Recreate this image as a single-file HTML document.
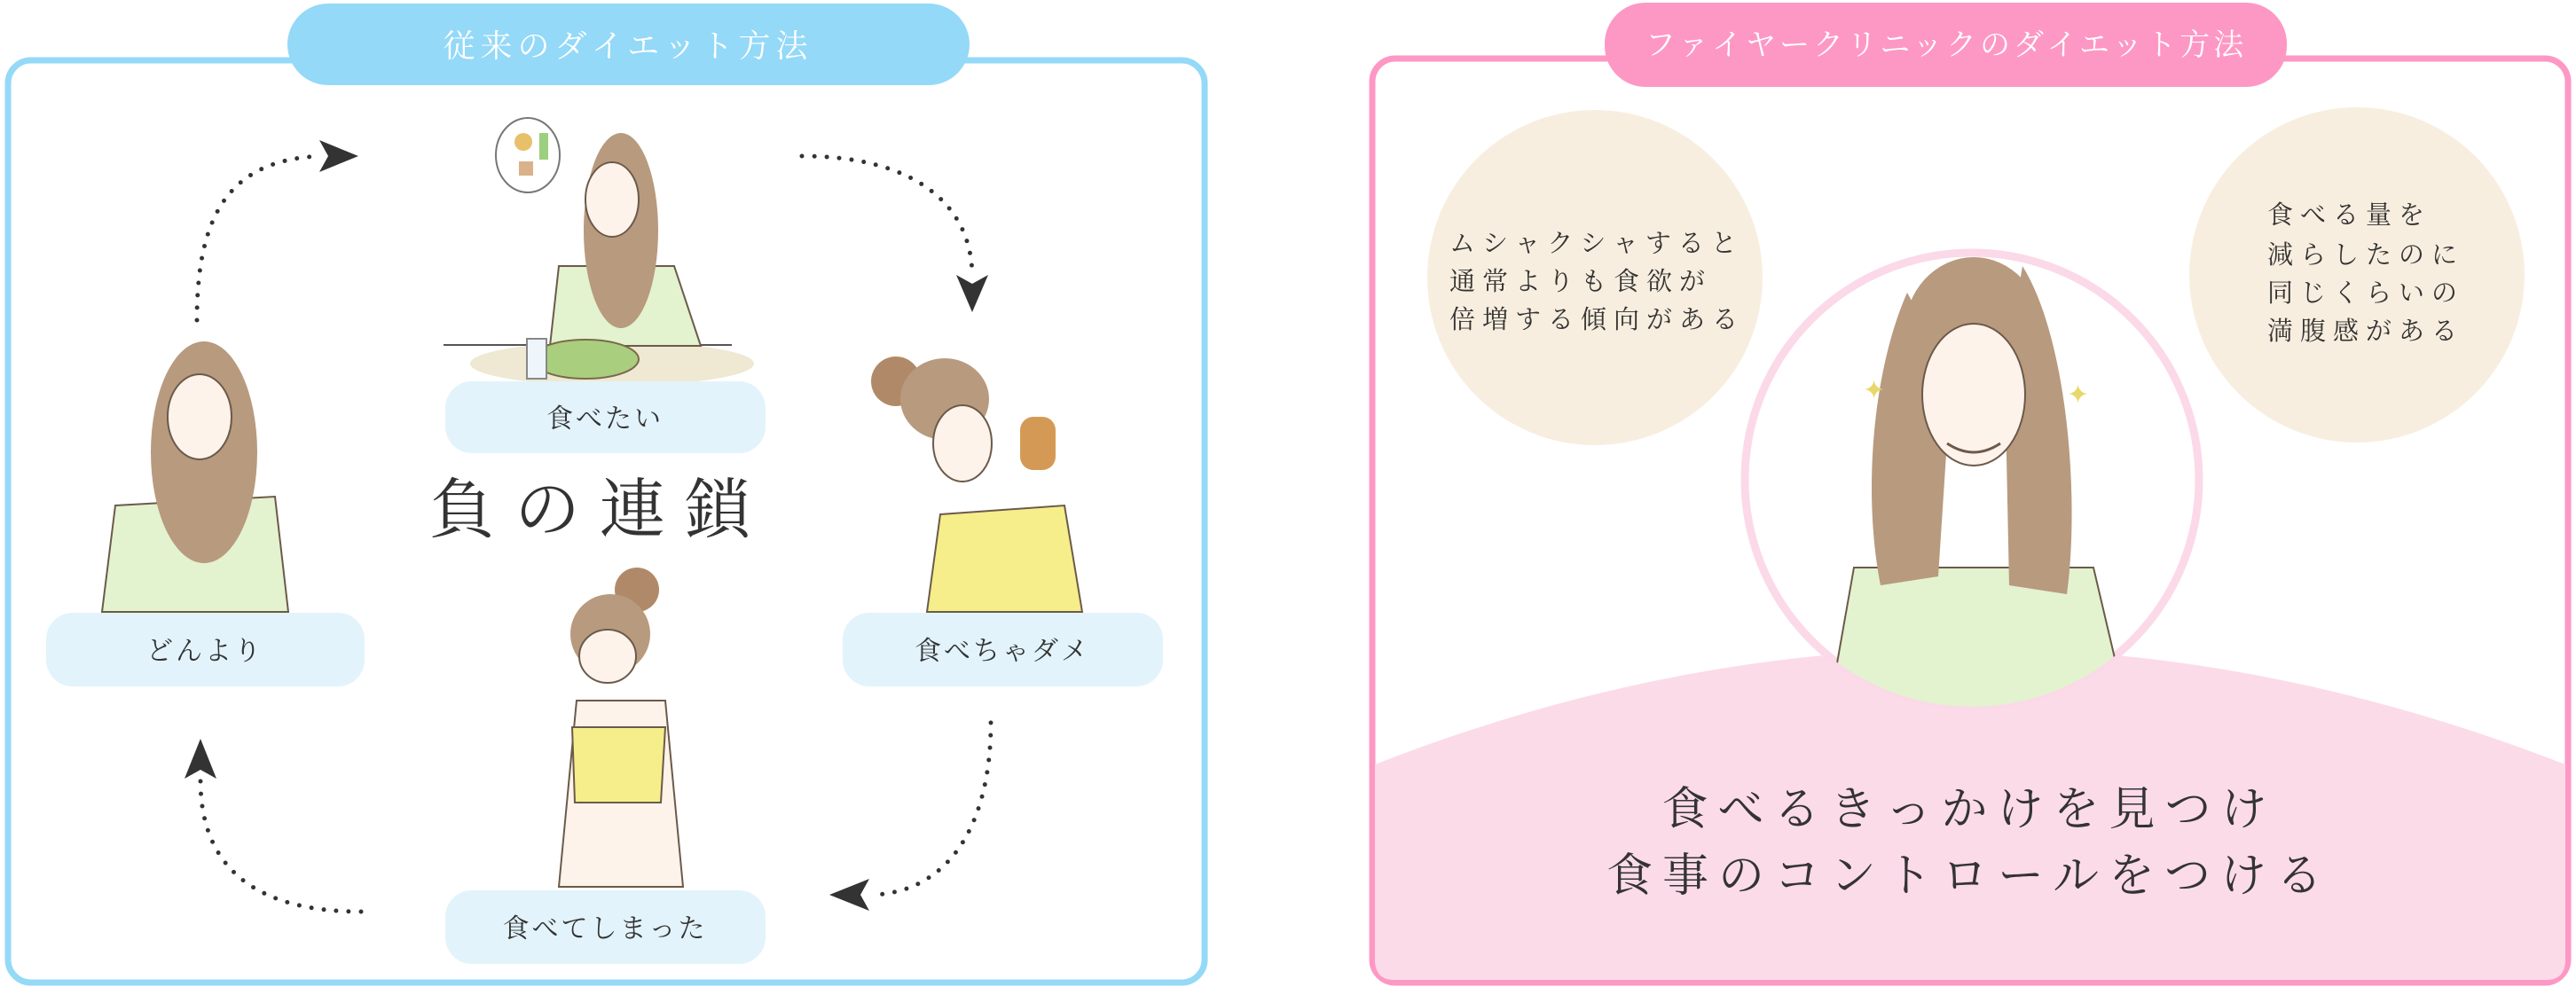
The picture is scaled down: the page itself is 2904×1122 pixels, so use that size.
<!DOCTYPE html>
<html><head><meta charset="utf-8"><style>
html,body{margin:0;padding:0;background:#fff;}
body{width:2904px;height:1117px;overflow:hidden;}
svg text{font-family:"Liberation Serif","Noto Serif CJK SC","Noto Sans CJK JP",serif;}
</style></head><body>
<svg width="2904" height="1117" viewBox="0 0 2904 1117" xmlns="http://www.w3.org/2000/svg">
<defs><clipPath id="cc"><circle cx="2223" cy="541" r="256"/></clipPath></defs>
<!-- LEFT PANEL -->
<rect x="9" y="68" width="1349" height="1040" rx="26" fill="#fff" stroke="#94d9f7" stroke-width="7"/>
<rect x="324" y="4" width="769" height="92" rx="46" fill="#94d9f7"/>
<text x="708" y="64" font-size="36" fill="#fff" text-anchor="middle" letter-spacing="6">従来のダイエット方法</text>

<!-- top center -->
<ellipse cx="690" cy="410" rx="160" ry="25" fill="#efe8d2"/>
<line x1="500" y1="389" x2="825" y2="389" stroke="#555" stroke-width="2"/>
<path d="M630 300 L760 300 L790 390 L620 390 Z" fill="#e3f2cf" stroke="#6b5a4a" stroke-width="2"/>
<ellipse cx="700" cy="260" rx="42" ry="110" fill="#b89a7e"/>
<ellipse cx="690" cy="225" rx="30" ry="42" fill="#fdf3ea" stroke="#6b5a4a" stroke-width="2"/>
<ellipse cx="595" cy="175" rx="36" ry="42" fill="#fff" stroke="#777" stroke-width="2"/>
<circle cx="590" cy="160" r="10" fill="#e8c06a"/><rect x="608" y="150" width="10" height="30" fill="#9ccf7e"/><rect x="585" y="182" width="16" height="16" fill="#d9b28a"/>
<ellipse cx="660" cy="405" rx="60" ry="22" fill="#a9cf7e" stroke="#7a6a4a" stroke-width="2"/>
<rect x="594" y="382" width="22" height="45" fill="#eef6fb" stroke="#888" stroke-width="2"/>
<!-- left woman -->
<path d="M130 570 L310 560 L325 690 L115 690 Z" fill="#e3f2cf" stroke="#6b5a4a" stroke-width="2"/>
<ellipse cx="230" cy="510" rx="60" ry="125" fill="#b89a7e"/>
<ellipse cx="225" cy="470" rx="36" ry="48" fill="#fdf3ea" stroke="#6b5a4a" stroke-width="2"/>
<!-- right woman -->
<path d="M1060 580 L1200 570 L1220 690 L1045 690 Z" fill="#f5ee8a" stroke="#6b5a4a" stroke-width="2"/>
<circle cx="1010" cy="430" r="28" fill="#b08a68"/>
<ellipse cx="1065" cy="450" rx="50" ry="46" fill="#b89a7e"/>
<ellipse cx="1085" cy="500" rx="33" ry="43" fill="#fdf3ea" stroke="#6b5a4a" stroke-width="2"/>
<rect x="1150" y="470" width="40" height="60" rx="15" fill="#d49a55"/>
<!-- bottom woman -->
<path d="M650 790 L750 790 L770 1000 L630 1000 Z" fill="#fdf3ea" stroke="#6b5a4a" stroke-width="2"/>
<path d="M645 820 L750 820 L745 905 L648 905 Z" fill="#f5ee8a" stroke="#6b5a4a" stroke-width="2"/>
<circle cx="718" cy="665" r="25" fill="#b08a68"/>
<ellipse cx="688" cy="715" rx="45" ry="45" fill="#b89a7e"/>
<ellipse cx="685" cy="740" rx="32" ry="30" fill="#fdf3ea" stroke="#6b5a4a" stroke-width="2"/>

<!-- pills -->
<rect x="502" y="430" width="361" height="81" rx="30" fill="#e2f3fb"/>
<text x="682" y="482" font-size="30" fill="#333" text-anchor="middle" letter-spacing="3">食べたい</text>
<rect x="52" y="691" width="359" height="83" rx="30" fill="#e2f3fb"/>
<text x="231" y="744" font-size="30" fill="#333" text-anchor="middle" letter-spacing="3">どんより</text>
<rect x="950" y="691" width="361" height="83" rx="30" fill="#e2f3fb"/>
<text x="1130" y="744" font-size="30" fill="#333" text-anchor="middle" letter-spacing="3">食べちゃダメ</text>
<rect x="502" y="1004" width="361" height="83" rx="30" fill="#e2f3fb"/>
<text x="682" y="1057" font-size="30" fill="#333" text-anchor="middle" letter-spacing="3">食べてしまった</text>
<text x="676" y="600" font-size="74" fill="#333" text-anchor="middle" letter-spacing="22">負の連鎖</text>

<!-- dotted arrows -->
<g fill="none" stroke="#333" stroke-width="5" stroke-linecap="round" stroke-dasharray="0 14">
<path d="M222 361 C222 240 260 180 362 176"/>
<path d="M904 176 C1030 176 1096 230 1096 312"/>
<path d="M1117 815 C1117 930 1070 1005 985 1009"/>
<path d="M407 1028 C290 1028 226 980 226 880"/>
</g>
<g fill="#333">
<path d="M360 158 L404 176 L360 194 L370 176 Z"/>
<path d="M1078 310 L1096 352 L1114 310 L1096 320 Z"/>
<path d="M980 991 L935 1009 L980 1027 L970 1009 Z"/>
<path d="M208 878 L226 833 L244 878 L226 868 Z"/>
</g>

<!-- RIGHT PANEL -->
<rect x="1547" y="66" width="1348" height="1042" rx="26" fill="#fff" stroke="#fd98c5" stroke-width="7"/>
<path d="M1550 862 Q2220 600 2892 862 L2892 1082 Q2892 1105 2870 1105 L1572 1105 Q1550 1105 1550 1082 Z" fill="#fcdbe9"/>
<rect x="1809" y="3" width="769" height="95" rx="46" fill="#fd98c5"/>
<text x="2194" y="62" font-size="34" fill="#fff" text-anchor="middle" letter-spacing="4">ファイヤークリニックのダイエット方法</text>

<circle cx="1798" cy="313" r="189" fill="#f8eedf"/>
<circle cx="2657" cy="310" r="189" fill="#f8eedf"/>
<g font-size="29" fill="#333" letter-spacing="8">
<text x="1634" y="284">ムシャクシャすると</text>
<text x="1634" y="327">通常よりも食欲が</text>
<text x="1634" y="370">倍増する傾向がある</text>
<text x="2556" y="252">食べる量を</text>
<text x="2556" y="297">減らしたのに</text>
<text x="2556" y="340">同じくらいの</text>
<text x="2556" y="383">満腹感がある</text>
</g>

<circle cx="2223" cy="541" r="256" fill="#fff" stroke="#fbd9e8" stroke-width="9"/>
<g clip-path="url(#cc)">
<path d="M2090 640 L2360 640 L2400 810 L2060 810 Z" fill="#e3f2cf" stroke="#6b5a4a" stroke-width="2"/>
<path d="M2150 330 C2110 420 2100 560 2120 660 L2185 650 L2200 420 Z" fill="#b89a7e"/>
<path d="M2280 300 C2330 380 2345 560 2330 670 L2265 660 L2260 420 Z" fill="#b89a7e"/>
<ellipse cx="2225" cy="375" rx="78" ry="85" fill="#b89a7e"/>
<ellipse cx="2225" cy="445" rx="58" ry="80" fill="#fdf3ea" stroke="#6b5a4a" stroke-width="2"/>
<path d="M2195 500 Q2225 520 2255 500" stroke="#6b5a4a" stroke-width="3" fill="none"/>
</g>
<g fill="#e8d86a"><text x="2100" y="450" font-size="30">✦</text><text x="2330" y="455" font-size="30">✦</text></g>

<g font-size="52" fill="#333" text-anchor="middle" letter-spacing="11">
<text x="2220" y="930">食べるきっかけを見つけ</text>
<text x="2220" y="1005">食事のコントロールをつける</text>
</g>
</svg>
</body></html>
